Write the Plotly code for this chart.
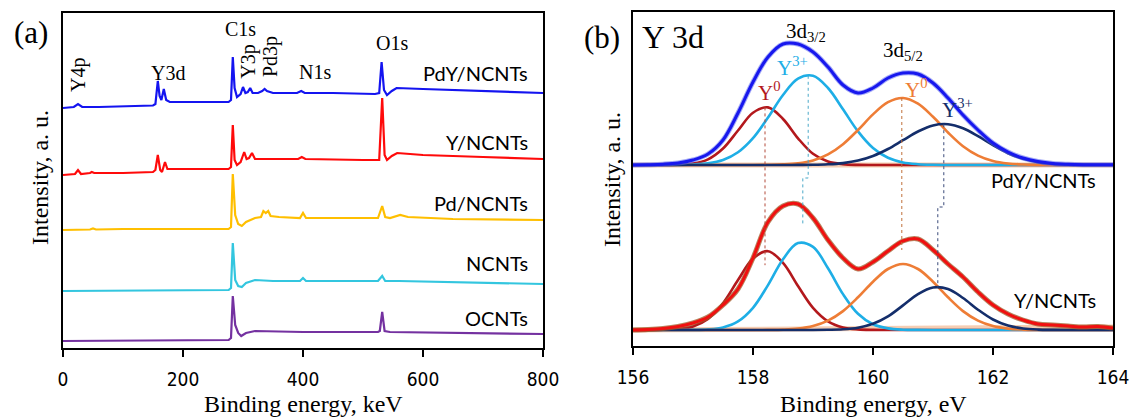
import plotly.graph_objects as go

# ---------------- Panel (a): XPS survey spectra ----------------
E_pdy = [0, 18, 25, 32, 60, 100, 140, 150, 154, 158, 161, 164, 168, 172, 178, 230, 276, 280, 283, 286, 290,
         296, 300, 304, 308, 312, 316, 325, 332, 336, 340, 350, 390, 397, 403, 450, 520, 527, 531, 535, 540,
         548, 556, 600, 700, 800]
I_pdy = [240, 241, 244, 241, 241, 241.5, 242, 242.5, 244, 267, 252, 248, 259, 248, 246, 246, 246, 248, 291, 260,
         251, 254, 261, 255, 256, 260, 255, 255, 257, 259, 257, 255, 255, 257, 255, 255, 254, 255, 286, 258, 253,
         257, 260, 259, 257, 255]

E_y = [0, 20, 25, 30, 45, 48, 52, 100, 150, 154, 158, 162, 165, 170, 174, 180, 276, 280, 283, 286, 290, 296,
       302, 306, 310, 315, 320, 340, 392, 398, 404, 500, 527, 532, 536, 540, 548, 557, 600, 700, 800]
I_y = [173, 174, 178, 174, 175, 176, 175, 175, 176, 178, 193, 178, 176, 186, 179, 179, 179, 181, 223, 188, 183,
       186, 196, 189, 190, 195, 189, 189, 189, 191, 189, 188, 188, 250, 193, 188, 192, 195, 193, 191, 189]

E_pd = [0, 45, 50, 55, 100, 200, 276, 280, 283, 287, 292, 298, 305, 320, 330, 334, 338, 342, 346, 360, 395,
        400, 405, 450, 525, 532, 537, 545, 555, 562, 575, 650, 800]
I_pd = [118, 118.5, 119.5, 118.5, 119, 119, 119, 121, 174, 133, 124, 122, 126, 130, 131, 137, 135, 137, 132,
        131, 130, 135, 130, 130, 130, 142, 131, 130, 132, 133, 131, 129, 128]

E_n = [0, 100, 200, 276, 280, 283, 287, 292, 298, 305, 320, 350, 395, 400, 405, 450, 525, 532, 537, 560, 650, 800]
I_n = [57, 57.5, 58, 58, 60, 105, 68, 62, 61, 65, 68, 67, 67, 70, 67, 67, 67, 72, 67, 67, 66, 64]

E_o = [0, 100, 200, 276, 280, 283, 287, 292, 297, 305, 320, 400, 525, 528, 532, 536, 545, 650, 800]
I_o = [7, 7.5, 8, 8, 10, 52, 23, 15, 12, 15, 17, 16, 16, 17, 36, 17, 16, 15, 14]

survey_names = ["PdY/NCNTs", "Y/NCNTs", "Pd/NCNTs", "NCNTs", "OCNTs"]
survey_colors = ["#1414f0", "#ff0a0a", "#ffbf00", "#33c6df", "#7431a0"]

# peak labels: (text, energy, intensity level, rotated)
peak_labels = [("Y4p", 25, 273, True), ("Y3d", 175, 275, False), ("C1s", 295, 319, False),
               ("Y3p", 308, 286, True), ("Pd3p", 345, 291, True), ("N1s", 420, 276, False),
               ("O1s", 548, 305, False)]
survey_label_levels = [275, 206, 145, 85, 30]

# ---------------- Panel (b): Y 3d high-resolution ----------------
E_B = [156.0, 156.25, 156.5, 156.75, 157.0, 157.25, 157.5, 157.75, 158.0, 158.25, 158.5, 158.75, 159.0,
       159.25, 159.5, 159.75, 160.0, 160.25, 160.5, 160.75, 161.0, 161.25, 161.5, 161.75, 162.0, 162.25,
       162.5, 162.75, 163.0, 163.25, 163.5, 163.75, 164.0]

# PdY/NCNTs
pdy_env = [0, 0.3, 0.8, 2, 5, 11, 25, 52, 83, 108, 121, 121, 113, 98, 80, 72, 77, 87, 92, 91, 82, 67, 50,
           35, 22, 13, 7, 3.5, 1.5, 0.7, 0.3, 0.2, 0.2]
pdy_y0_32 = [0, 0, 0, 0.3, 1.5, 5.7, 16.5, 34.5, 52.3, 57.6, 46.0, 26.7, 11.2, 3.4, 0.8, 0.1,
             0, 0, 0, 0, 0, 0, 0, 0, 0, 0, 0, 0, 0, 0, 0, 0, 0]
pdy_y3_32 = [0, 0, 0, 0.1, 0.5, 1.7, 5.0, 12.7, 26.8, 47.4, 70.0, 86.4, 89.2, 77.0, 55.7, 33.6, 17.0, 7.2,
             2.5, 0.8, 0.2, 0, 0, 0, 0, 0, 0, 0, 0, 0, 0, 0, 0]
pdy_y0_52 = [0, 0, 0, 0, 0, 0, 0, 0, 0, 0.2, 0.6, 1.7, 4.6, 10.6, 20.8, 35.0, 50.6, 62.8, 67.0, 61.3, 48.2,
             32.5, 18.8, 9.4, 4.0, 1.5, 0.5, 0.1, 0, 0, 0, 0, 0]
pdy_y3_52 = [0, 0, 0, 0, 0, 0, 0, 0, 0, 0, 0, 0.1, 0.2, 0.7, 1.9, 4.4, 9.0, 16.0, 24.8, 33.5, 39.6, 40.8,
             36.7, 28.8, 19.8, 11.8, 6.2, 2.8, 1.1, 0.4, 0.1, 0, 0]

# Y/NCNTs
y_env = [0, 0.5, 1.5, 3.5, 7, 13, 25, 41, 72, 108, 124, 126, 112, 90, 72, 61, 68, 79, 89, 91, 80, 66, 53,
         38, 25, 16, 10, 6, 5, 4, 3, 3.5, 2]
y_y0_32 = [0, 0, 0.2, 0.9, 3.5, 11.1, 26.8, 49.9, 71.4, 78.8, 67.1, 44.0, 22.2, 8.7, 2.6, 0.6, 0.1,
           0, 0, 0, 0, 0, 0, 0, 0, 0, 0, 0, 0, 0, 0, 0, 0]
y_y3_32 = [0, 0, 0, 0, 0.1, 0.6, 2.6, 8.6, 22.2, 44.9, 70.8, 86.9, 83.1, 61.8, 35.9, 16.2, 5.7, 1.6, 0.3,
           0.1, 0, 0, 0, 0, 0, 0, 0, 0, 0, 0, 0, 0, 0]
y_y0_52 = [0, 0, 0, 0, 0, 0, 0, 0, 0, 0.1, 0.4, 1.4, 4.0, 9.4, 18.9, 32.7, 48.3, 61.0, 66.0, 61.0, 48.3,
           32.7, 18.9, 9.4, 4.0, 1.4, 0.4, 0.1, 0, 0, 0, 0, 0]
y_y3_52 = [0, 0, 0, 0, 0, 0, 0, 0, 0, 0, 0, 0, 0, 0.2, 0.7, 2.3, 6.2, 13.6, 24.6, 35.9, 42.5, 41.0, 32.0,
           20.3, 10.5, 4.4, 1.5, 0.4, 0.1, 0, 0, 0, 0]

# stacking offsets (a.u.) and background ends
offset_pdy = 181
offset_y = 16
bg_E = [156.0, 164.0]
bg_pdy = [0, 0]
bg_y = [0, 3]

# fitted peak centres (eV)
centers_pdy = [158.2, 158.92, 160.48, 161.18]
centers_y = [158.2, 158.83, 160.5, 161.08]

comp_colors = ["#b3181c", "#1eaee6", "#ee7d36", "#142e6b"]
guide_colors = ["#b34a3a", "#4aa8c8", "#c0703a", "#3a4a7a"]

fig = go.Figure()

# ---------- panel (a) traces ----------
for E, I, c in zip([E_pdy, E_y, E_pd, E_n, E_o], [I_pdy, I_y, I_pd, I_n, I_o], survey_colors):
    fig.add_trace(go.Scatter(x=E, y=I, mode="lines", line=dict(color=c, width=2.2),
                             xaxis="x", yaxis="y", hoverinfo="skip"))

# ---------- panel (b) traces ----------
groups = [
    (offset_pdy, bg_pdy, pdy_env, [pdy_y0_32, pdy_y3_32, pdy_y0_52, pdy_y3_52], "#1818ee",
     "rgba(90,100,240,0.55)"),
    (offset_y, bg_y, y_env, [y_y0_32, y_y3_32, y_y0_52, y_y3_52], "#f01010", "rgba(160,90,40,0.75)"),
]
for off, bg, env, comps, ecol, rawcol in groups:
    fig.add_trace(go.Scatter(x=bg_E, y=[off + b for b in bg], mode="lines",
                             line=dict(color="#f6cdb2", width=5), xaxis="x2", yaxis="y2", hoverinfo="skip"))
    for comp, col in zip(comps, comp_colors):
        fig.add_trace(go.Scatter(x=E_B, y=[off + v for v in comp], mode="lines",
                                 line=dict(color=col, width=2.6, shape="spline", smoothing=1.0),
                                 xaxis="x2", yaxis="y2", hoverinfo="skip"))
    fig.add_trace(go.Scatter(x=E_B, y=[off + v for v in env], mode="lines",
                             line=dict(color=rawcol, width=5.0, shape="spline", smoothing=1.0),
                             xaxis="x2", yaxis="y2", hoverinfo="skip"))
    fig.add_trace(go.Scatter(x=E_B, y=[off + v for v in env], mode="lines",
                             line=dict(color=ecol, width=3.0, shape="spline", smoothing=1.0),
                             xaxis="x2", yaxis="y2", hoverinfo="skip"))

# guide lines linking the component peaks of the two samples
top_comps = [pdy_y0_32, pdy_y3_32, pdy_y0_52, pdy_y3_52]
bot_comps = [y_y0_32, y_y3_32, y_y0_52, y_y3_52]
step_drop = [None, 13, None, 42]
end_below = [14, -18, -14, 0]
for k in range(4):
    top_level = offset_pdy + max(top_comps[k])
    bot_level = offset_y + max(bot_comps[k]) - end_below[k]
    if step_drop[k] is None:
        xs = [centers_pdy[k], centers_pdy[k]]
        ys = [top_level, bot_level]
    else:
        step = offset_pdy - step_drop[k]
        xs = [centers_pdy[k], centers_pdy[k], centers_y[k], centers_y[k]]
        ys = [top_level, step, step, bot_level]
    fig.add_trace(go.Scatter(x=xs, y=ys, mode="lines",
                             line=dict(color=guide_colors[k], width=1, dash="dot"),
                             xaxis="x2", yaxis="y2", hoverinfo="skip"))

SERIF = "Liberation Serif, Times New Roman, serif"
SANS = "Lato, Carlito, Calibri, Liberation Sans, sans-serif"
NARROW = "DejaVu Sans Condensed, Liberation Sans Narrow, Arial Narrow, sans-serif"


def note(text, x, y, xref, yref, size, family, color="black", angle=0, xanchor="center"):
    return dict(text=text, x=x, y=y, xref=xref, yref=yref, showarrow=False, textangle=angle,
                xanchor=xanchor, yanchor="middle", font=dict(family=family, size=size, color=color))


ann = []
for txt, e, lvl, rot in peak_labels:
    ann.append(note(txt, e, lvl, "x", "y", 20, SERIF, angle=-90 if rot else 0))
for name, lvl in zip(survey_names, survey_label_levels):
    ann.append(note(name, 778, lvl, "x", "y", 20, SANS, xanchor="right"))

comp_label_text = ["Y<sup>0</sup>", "Y<sup>3+</sup>", "Y<sup>0</sup>", "Y<sup>3+</sup>"]
comp_label_pos = [(158.28, 255), (158.65, 280), (160.72, 258), (161.4, 238)]
for txt, (e, lvl), col in zip(comp_label_text, comp_label_pos, comp_colors):
    ann.append(note(txt, e, lvl, "x2", "y2", 21, SERIF, color=col))
ann.append(note("3d<sub>3/2</sub>", 158.88, 314, "x2", "y2", 21, SERIF))
ann.append(note("3d<sub>5/2</sub>", 160.5, 295, "x2", "y2", 21, SERIF))
ann.append(note("Y 3d", 156.12, 309, "x2", "y2", 32, SERIF, xanchor="left"))
ann.append(note("PdY/NCNTs", 163.75, 166, "x2", "y2", 20, SANS, xanchor="right"))
ann.append(note("Y/NCNTs", 163.75, 46, "x2", "y2", 20, SANS, xanchor="right"))

# panel letters and axis titles
ann.append(note("(a)", 31 / 1131, 1 - 33 / 417, "paper", "paper", 31, SERIF))
ann.append(note("(b)", 602 / 1131, 1 - 38 / 417, "paper", "paper", 31, SERIF))
ann.append(note("Binding energy, keV", 303 / 1131, 1 - 404 / 417, "paper", "paper", 24, SERIF))
ann.append(note("Binding energy, eV", 873 / 1131, 1 - 404 / 417, "paper", "paper", 24, SERIF))
ann.append(note("Intensity, a. u.", 40 / 1131, 1 - 178 / 417, "paper", "paper", 24, SERIF, angle=-90))
ann.append(note("Intensity, a. u.", 612 / 1131, 1 - 180 / 417, "paper", "paper", 24, SERIF, angle=-90))

common_x = dict(ticks="outside", ticklen=7, tickwidth=1.5, tickcolor="black", showline=True,
                linecolor="black", linewidth=1.5, mirror=True, showgrid=False, zeroline=False,
                automargin=False,
                tickfont=dict(family=NARROW, size=19, color="black"), ticklabelstandoff=6)
common_y = dict(showticklabels=False, ticks="", showline=True, linecolor="black", linewidth=1.5,
                mirror=True, showgrid=False, zeroline=False, automargin=False)

fig.update_layout(
    width=1131, height=417, margin=dict(l=0, r=0, t=0, b=0, autoexpand=False),
    paper_bgcolor="white", plot_bgcolor="white", showlegend=False,
    xaxis=dict(domain=[63 / 1131, 543 / 1131], range=[0, 800], tickvals=[0, 200, 400, 600, 800],
               anchor="y", **common_x),
    yaxis=dict(domain=[(417 - 348) / 417, (417 - 13) / 417], range=[0, 335], anchor="x", **common_y),
    xaxis2=dict(domain=[633 / 1131, 1113 / 1131], range=[156, 164], tickvals=[156, 158, 160, 162, 164],
                anchor="y2", **common_x),
    yaxis2=dict(domain=[(417 - 346) / 417, (417 - 12) / 417], range=[0, 334], anchor="x2", **common_y),
    annotations=ann,
)

fig.write_html("out.html")
